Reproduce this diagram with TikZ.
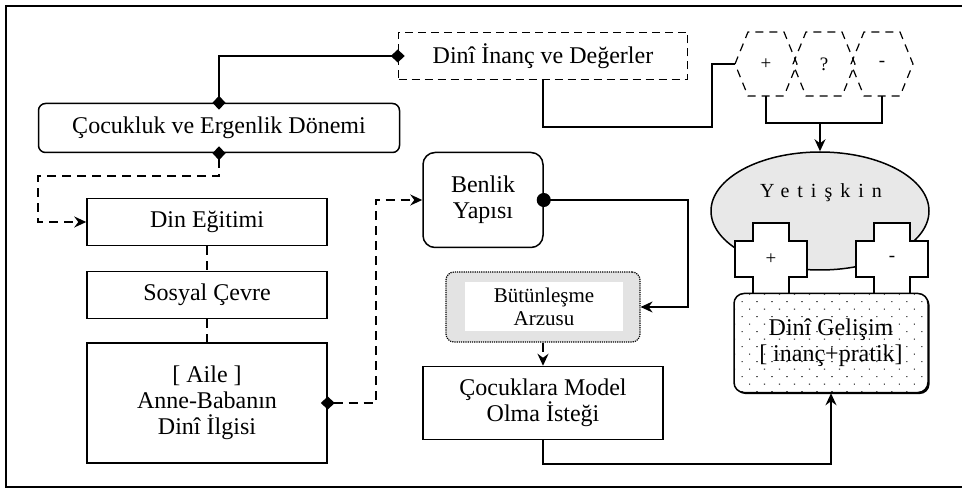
\documentclass[tikz,border=0pt]{standalone}
\usepackage{fontspec}
\setmainfont{Liberation Serif}
\usetikzlibrary{arrows.meta,shapes.geometric,shadows,patterns.meta}

\begin{document}
\begin{tikzpicture}[x=1pt,y=-1pt]

\tikzset{every node/.style={font=\fontsize{24}{26}\selectfont},
    box/.style={draw, line width=1.5pt, minimum width=240pt, minimum height=47pt, align=center, inner sep=2pt},
    rbox/.style={box, rounded corners=7pt},
    dbox/.style={box, dash pattern=on 8pt off 5pt},
    conn/.style={line width=1.6pt},
    dconn/.style={conn, dash pattern=on 9pt off 6pt},
    hexline/.style={line width=1.2pt, dash pattern=on 8pt off 6pt},
    small/.style={font=\fontsize{19}{22}\selectfont, inner sep=0pt},
    dmd/.tip={Diamond[length=14pt,width=13pt]},
    blob/.tip={Circle[length=14pt]},
    >={Stealth[length=12pt,width=11pt,inset=4pt]}}

\useasboundingbox (0,0) rectangle (962,489);
\draw[line width=2.5pt] (6,6) rectangle (980,487);

% left column
\node[dbox, minimum width=289pt] (dini) at (543,56) {Dinî İnanç ve Değerler};
\node[rbox, minimum width=361pt, minimum height=49pt] (cocuk) at (219,128) {Çocukluk ve Ergenlik Dönemi};
\node[box] (egitim) at (207,222) {Din Eğitimi};
\node[box] (sosyal) at (207,295) {Sosyal Çevre};
\node[box, minimum height=120pt] (aile) at (207,403) {[ Aile ]\\Anne-Babanın\\Dinî İlgisi};

% middle column
\node[rbox, minimum width=120pt, minimum height=95pt, rounded corners=12pt] (benlik) at (483,200) {Benlik\\Yapısı};
\node[draw, line width=1.2pt, densely dotted, rounded corners=8pt, fill=gray!22, minimum width=194pt, minimum height=70pt] (butun) at (543,307) {};
\node[fill=white, minimum width=158pt, minimum height=49pt, align=center, inner sep=1pt, font=\fontsize{21}{23}\selectfont] (butuntext) at (544,307) {Bütünleşme\\Arzusu};
\node[box, minimum height=73pt] (model) at (543,403) {Çocuklara Model\\Olma İsteği};

% right column
\foreach \n/\x/\t in {hp/766/+, hq/824/?, hm/882/-} {
    \node[small] (\n) at (\x,64) {\t};
    \draw[hexline] ([shift={(-31,0)}]\n.center) -- ++(13,-32) -- ++(36,0) -- ++(13,32)
        -- ++(-13,32) -- ++(-36,0) -- cycle;
    \coordinate (\n-w) at ([shift={(-31,0)}]\n.center);
    \coordinate (\n-s) at ([shift={(0,32)}]\n.center);
}
\node[draw, ellipse, line width=1.5pt, fill=gray!18, minimum width=218pt, minimum height=118pt] (yet) at (820,211) {};
\node[font=\fontsize{20}{24}\selectfont\addfontfeatures{LetterSpace=40}] (yettext) at (821,193) {Yetişkin};
\foreach \n/\x/\t in {cp/771/+, cm/892/-} {
    \draw[line width=1.5pt, fill=white] (\x,259) ++(-18,-36) -- ++(36,0) -- ++(0,18) -- ++(18,0)
        -- ++(0,36) -- ++(-18,0) -- ++(0,18) -- ++(-36,0) -- ++(0,-18) -- ++(-18,0) -- ++(0,-36)
        -- ++(18,0) -- cycle;
    \node[small] (\n) at (\x,259) {\t};
}
\node[rbox, minimum width=194pt, minimum height=99pt, rounded corners=10pt,
    drop shadow={shadow xshift=1.6pt, shadow yshift=-1.6pt, fill=black, opacity=1},
    preaction={fill=white}, pattern={Dots[angle=45, distance=10.6pt, radius=0.75pt]}] (gelisim) at (831,343) {Dinî Gelişim\\{[} inanç+pratik]};

% connectors
\draw[conn, dmd-dmd, shorten <=-7pt, shorten >=-7pt] (dini.west) -| (cocuk.north);
\draw[dconn, dmd->, shorten <=-7pt] (cocuk.south) -- ++(0,23) -- ++(-181,0) |- (egitim.west);
\draw[dconn] (egitim.south) -- (sosyal.north);
\draw[dconn] (sosyal.south) -- (aile.north);
\draw[dconn, dmd->, shorten <=-7pt] (aile.east) -- ++(48,0) |- (benlik.west);
\draw[conn, blob->, shorten <=-7pt] (benlik.east) -- ++(144,0) |- (butun.east);
\draw[dconn, ->] (butun.south) -- (model.north);
\draw[conn, ->] (model.south) -- ++(0,24) -| (gelisim.south);
\draw[conn] (dini.south) -- ++(0,47) -| ([shift={(-23,0)}]hp-w) -- (hp-w);
\draw[conn] (hp-s) -- ++(0,27) coordinate (hj) -| (hm-s);
\draw[conn, ->] (hj -| yet.north) -- (yet.north);

\end{tikzpicture}
\end{document}
